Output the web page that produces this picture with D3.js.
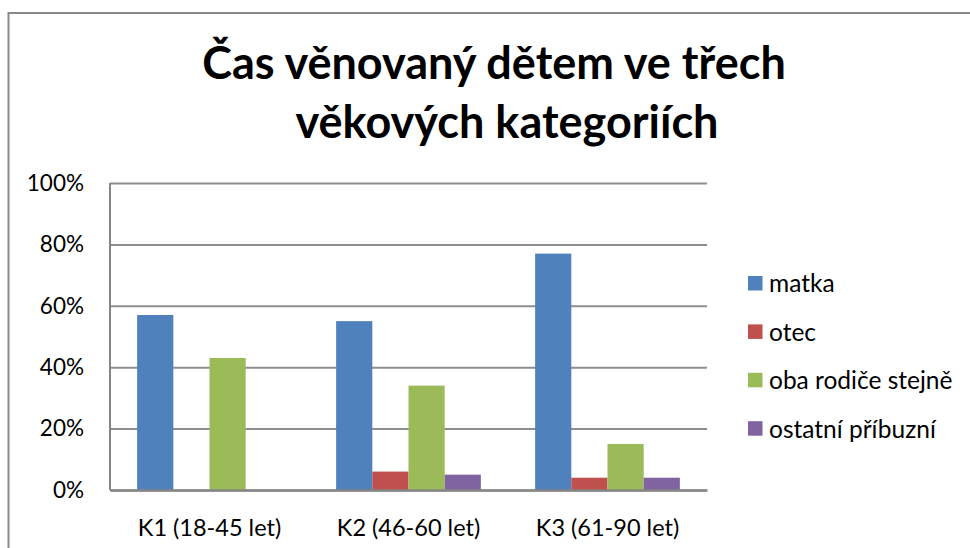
<!DOCTYPE html>
<html>
<head>
<meta charset="utf-8">
<script src="https://cdn.jsdelivr.net/npm/d3@7"></script>
<style>
  html, body { margin: 0; padding: 0; background: #fff; }
  svg { display: block; }
  text { font-family: Lato, "Open Sans", sans-serif; fill: #000; }
</style>
</head>
<body>
<svg id="chart" width="970" height="548"></svg>
<script>
const titleLines = ["Čas věnovaný dětem ve třech", "věkových kategoriích"];
const categories = ["K1 (18-45 let)", "K2 (46-60 let)", "K3 (61-90 let)"];
const seriesNames = ["matka", "otec", "oba rodiče stejně", "ostatní příbuzní"];
const matka = [0.57, 0.55, 0.77];
const otec = [0, 0.06, 0.04];
const obaRodice = [0.43, 0.34, 0.15];
const ostatni = [0, 0.05, 0.04];
const yTicks = [0, 0.2, 0.4, 0.6, 0.8, 1.0];
const colors = ["#4F81BD", "#C0504D", "#9BBB59", "#8064A2"];

const seriesValues = [matka, otec, obaRodice, ostatni];
const svg = d3.select("#chart");

// outer chart border
svg.append("rect")
  .attr("x", 8.5).attr("y", 13)
  .attr("width", 1000).attr("height", 600)
  .attr("fill", "none").attr("stroke", "#888").attr("stroke-width", 2);

// title
const titleCenters = [494, 507];
const titleBaselines = [79, 138];
svg.selectAll("text.title").data(titleLines).join("text")
  .attr("class", "title")
  .attr("x", (d, i) => titleCenters[i])
  .attr("y", (d, i) => titleBaselines[i])
  .attr("text-anchor", "middle")
  .attr("font-size", 45)
  .attr("font-weight", "bold")
  .text(d => d);

const plot = { left: 110, right: 707, top: 183, bottom: 490 };

const x = d3.scaleBand().domain(categories).range([plot.left, plot.right]).padding(0);
const bw = x.bandwidth();
const groupW = bw * 4 / 5.5;
const xs = d3.scaleBand().domain(d3.range(seriesNames.length))
  .range([bw * 0.75 / 5.5, bw * 0.75 / 5.5 + groupW]).padding(0);
const y = d3.scaleLinear().domain([0, 1]).range([plot.bottom, plot.top]);

// gridlines + y tick labels
const yAxis = d3.axisLeft(y).tickValues(yTicks).tickFormat(d3.format(".0%"))
  .tickSize(-(plot.right - plot.left)).tickPadding(26);
const gy = svg.append("g").attr("transform", `translate(${plot.left},0)`).call(yAxis);
gy.select(".domain").remove();
gy.selectAll(".tick line").attr("stroke", "#8e8e8e").attr("stroke-width", 2);
gy.selectAll(".tick text").attr("font-size", 22.5).attr("fill", "#000")
  .style("font-family", "Lato, 'Open Sans', sans-serif");

// bars
const barData = [];
categories.forEach((c, ci) => {
  seriesValues.forEach((vals, si) => {
    barData.push({ c, si, v: vals[ci] });
  });
});
svg.append("g").selectAll("rect").data(barData.filter(d => d.v > 0)).join("rect")
  .attr("x", d => x(d.c) + xs(d.si))
  .attr("width", xs.bandwidth())
  .attr("y", d => y(d.v))
  .attr("height", d => y(0) - y(d.v))
  .attr("fill", d => colors[d.si]);

// axis lines
svg.append("line")
  .attr("x1", plot.left).attr("x2", plot.left)
  .attr("y1", plot.top).attr("y2", plot.bottom)
  .attr("stroke", "#868686").attr("stroke-width", 2);
const xAxis = d3.axisBottom(x).tickSize(0).tickPadding(29);
const gx = svg.append("g").attr("transform", `translate(0,${plot.bottom})`).call(xAxis);
gx.select(".domain").attr("stroke", "#868686").attr("stroke-width", 2.5);
gx.selectAll(".tick text").attr("font-size", 23.5).attr("fill", "#000")
  .style("font-family", "Lato, 'Open Sans', sans-serif");

// legend
const legend = svg.append("g").attr("transform", "translate(748,276)");
const li = legend.selectAll("g").data(seriesNames).join("g")
  .attr("transform", (d, i) => `translate(0,${i * 48.4})`);
li.append("rect").attr("width", 14.5).attr("height", 14.5).attr("fill", (d, i) => colors[i]);
li.append("text").attr("x", 21).attr("y", 7.5).attr("dy", "0.36em")
  .attr("font-size", 24.5).text(d => d);
</script>
</body>
</html>
